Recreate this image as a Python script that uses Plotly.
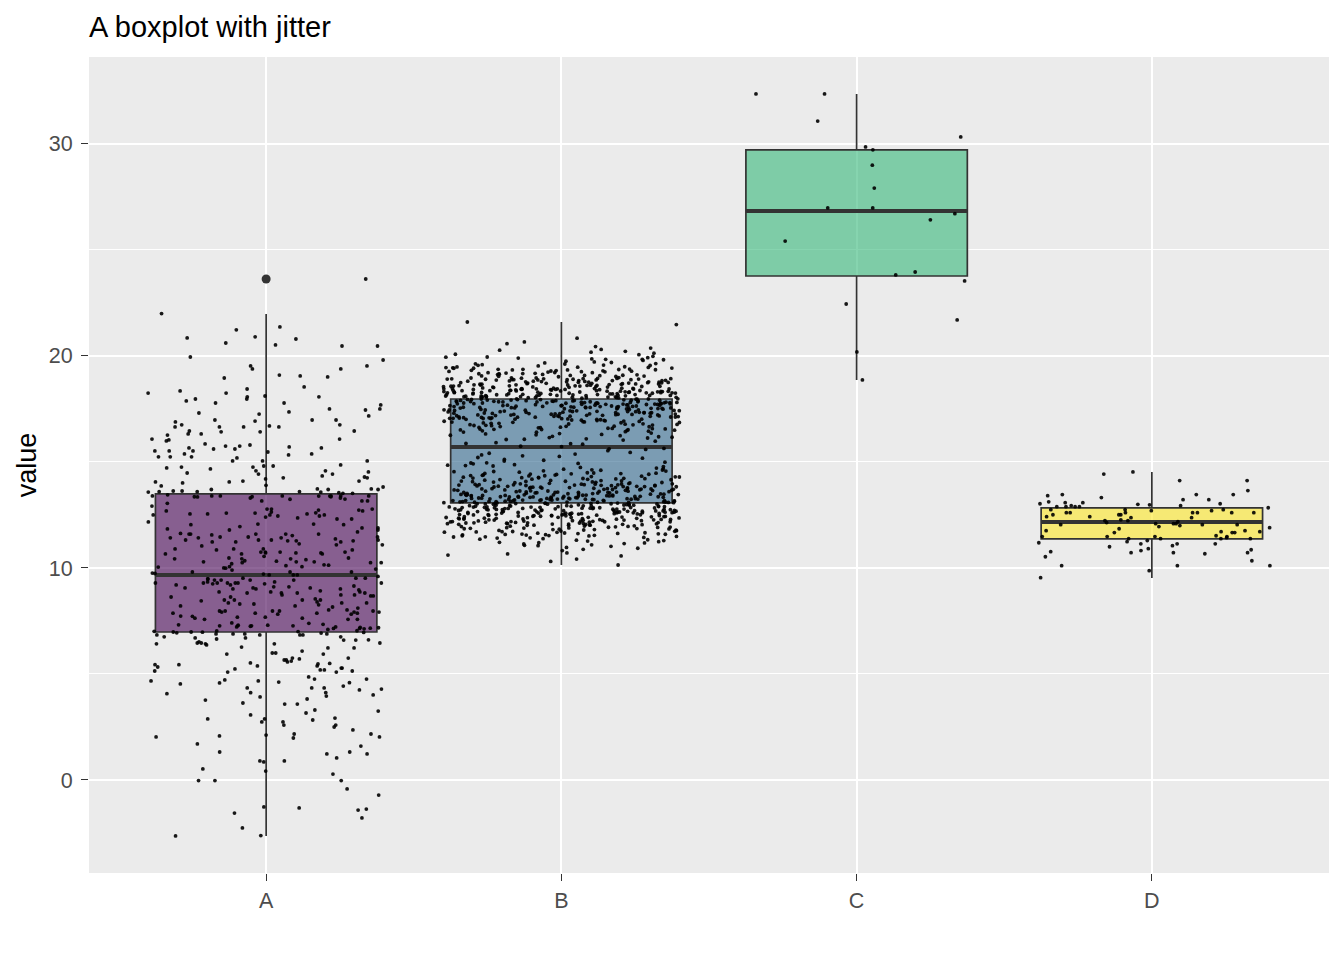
import math
import plotly.graph_objects as go

groups = ["A", "B", "C", "D"]
fill_colors = ["rgba(68,1,84,0.6)", "rgba(49,104,142,0.6)",
               "rgba(53,183,121,0.6)", "rgba(253,231,37,0.6)"]

# box statistics
q1 = [6.98, 13.07, 23.77, 11.37]
median = [9.67, 15.71, 26.84, 12.17]
q3 = [13.49, 17.97, 29.72, 12.83]
lower_whisker = [-2.64, 10.14, 18.87, 9.53]
upper_whisker = [21.98, 21.60, 32.36, 14.53]

values_a = [
    23.63, 22.00, 21.37, 21.23, 20.90, 20.80, 20.85, 20.61, 20.52, 20.47, 20.47,
    19.95, 19.81, 19.39, 19.39, 19.53, 19.53, 19.06, 18.96, 19.01, 19.10, 18.54,
    18.44, 18.35, 18.25, 18.11, 18.25, 17.88, 18.07, 17.69, 18.07, 17.78, 17.97,
    17.97, 17.78, 17.50, 17.45, 17.26, 17.50, 17.36, 17.17, 16.93, 17.31, 16.98,
    16.98, 16.98, 16.70, 16.75, 16.65, 16.65, 16.89, 16.75, 16.65, 16.65, 16.46,
    16.42, 16.32, 16.42, 16.46, 16.32, 16.27, 16.08, 16.08, 16.04, 15.99, 15.71,
    15.85, 15.75, 15.75, 15.61, 15.47, 15.66, 15.52, 15.52, 15.33, 15.38, 15.38,
    15.24, 15.24, 15.66, 15.80, 15.52, 15.61, 15.24, 15.19, 15.05, 15.05, 14.76,
    15.05, 14.86, 14.76, 14.81, 14.34, 14.43, 14.58, 14.25, 14.01, 13.87, 14.81,
    14.67, 14.53, 14.72, 14.48, 14.20, 14.10, 14.06, 14.25, 13.73, 13.73, 13.60,
    13.60, 13.60, 14.06, 13.90, 14.58, 14.43, 14.29, 14.10, 13.82, 13.70, 13.70,
    13.70, 13.63, 13.58, 13.58, 13.40, 13.35, 13.40, 13.40, 13.30, 13.30, 13.40,
    13.40, 13.40, 13.40,
    13.63, 13.55, 13.52, 13.36, 13.36, 13.36, 13.39, 13.52, 13.45, 13.39, 13.25,
    13.16, 13.24, 13.16, 13.16, 12.92, 13.05,
    12.60, 12.64, 12.73, 12.78, 12.78, 12.55, 12.59, 12.69, 12.45, 12.69, 12.50,
    12.55, 12.59, 12.45, 12.50, 12.78, 12.55, 12.50, 12.73, 12.31, 12.31, 12.40,
    12.36,
    12.04, 11.95, 11.89, 11.79, 11.79, 12.07, 12.07, 12.04, 12.17, 11.84, 11.89,
    11.60, 11.60, 11.63, 11.53, 11.60, 11.42, 11.42, 11.32, 11.28, 11.46, 11.37,
    11.32, 11.32, 11.60, 11.60, 11.32, 11.23, 11.28, 11.14, 11.56, 11.70, 11.46,
    11.46, 11.23, 11.42, 11.23, 11.09, 11.28, 11.04,
    11.09, 10.90, 10.85, 10.90, 10.71, 10.90, 10.85, 10.66, 10.75, 10.75, 10.66,
    10.71, 10.75, 10.66, 10.47, 10.75, 10.71, 10.43,
    10.47, 10.43, 10.29, 10.34, 10.29, 10.25, 10.39, 10.29, 10.55, 10.43, 10.20,
    10.06, 10.15, 10.25, 10.32, 10.11, 10.13, 10.00, 10.06, 10.04, 10.25, 9.95,
    9.81, 9.90, 9.81, 9.99, 9.67, 9.74, 9.81, 9.60, 9.52,
    9.71, 9.76, 9.48, 9.43, 9.67, 9.52, 9.48, 9.34, 9.43, 9.67, 9.25, 9.06, 9.01,
    9.43, 9.34, 9.29, 9.20, 9.20, 9.25, 9.01, 9.15, 9.11, 9.29, 9.29, 9.29, 9.06,
    8.87, 8.87, 8.92, 8.82, 9.43, 9.29, 9.29, 9.29, 9.52, 9.06, 8.87, 8.96, 9.01,
    8.73, 8.54, 8.45, 8.35, 8.49, 8.68, 8.30, 8.21, 8.82, 8.49, 8.82, 8.68, 8.63,
    8.21, 8.73, 8.82, 8.73, 8.35, 8.16, 8.63, 9.11, 8.49, 8.40, 8.26, 8.49, 8.35,
    8.11, 8.30, 8.02, 7.92, 7.92, 7.97, 7.97, 7.92, 7.97, 7.87, 7.82, 7.87, 7.97,
    8.02, 7.87, 7.97,
    7.82, 7.72, 7.58, 7.63, 7.39, 7.25, 7.15, 7.22, 7.41, 7.27, 7.58, 7.34, 7.63,
    7.68, 7.30, 7.58, 7.68, 7.87, 7.22, 7.32, 7.30, 7.73, 7.15, 7.10, 7.16, 7.27,
    7.20, 7.27, 7.27, 7.13, 6.70, 6.89, 7.04, 6.84, 6.61, 7.01, 6.84, 6.89, 6.94,
    6.75, 7.03, 7.18,
    6.84, 6.60, 6.42, 6.51, 6.46, 6.46, 6.37, 6.98, 6.08, 5.99, 5.28, 5.19, 5.44,
    5.19, 5.66, 5.75, 5.38, 5.57, 5.44, 5.50, 5.14, 5.52, 5.24, 6.70, 6.89, 6.23,
    6.65, 7.00, 6.60, 6.23, 5.99, 6.84, 6.89, 6.27, 5.09, 6.93, 5.33, 5.94, 5.61,
    5.75, 6.46, 5.09, 5.28, 6.75, 6.98, 6.42, 5.94, 6.42, 5.66, 5.71, 5.47, 5.38,
    6.97, 6.96,
    5.14, 4.59, 4.12, 4.29, 4.43, 3.96, 4.12, 4.07, 4.76, 4.62, 4.34, 4.34, 4.86,
    3.92, 3.77, 3.58, 3.63, 4.53, 4.58, 4.01, 4.67, 3.58, 4.76, 4.72, 4.25, 4.67,
    4.34, 3.82, 3.30, 2.50, 1.32, 2.92, 2.74, 2.36, 2.59, 3.16, 2.88, 2.88, 2.83,
    2.59, 2.03, 2.12, 1.60, 1.23, 1.04, 1.32, 0.90, 1.23, 0.28, 1.70, 0.42, 2.17,
    2.17, 3.07, 3.25, 2.74, 2.08, 2.03, 1.98, 0.90, 0.85, 0.52, -0.03, -0.03,
    -0.03, -0.42, -0.71, -1.56, -1.37, -1.32, -1.27, -1.79, -1.42, -2.26, -2.62,
    -2.64,
]

values_b = [
    # lower cluster
    10.14, 10.42, 10.31,
    10.66, 10.93, 10.57, 10.82, 10.71, 10.97, 10.61, 10.88,
    11.27, 11.05, 11.44, 11.13, 11.38, 11.21, 11.49, 11.02, 11.33, 11.18, 11.46,
    11.09, 11.29, 11.41, 11.15, 11.36, 11.24, 11.47, 11.07, 11.31, 11.42, 11.19,
    11.62, 11.87, 11.54, 11.93, 11.71, 11.58, 11.96, 11.66, 11.81, 11.52, 11.74,
    11.99, 11.63, 11.85, 11.57, 11.78, 11.91, 11.68, 11.55, 11.83, 11.95, 11.61,
    11.72, 11.88, 11.51, 11.79, 11.65, 11.97, 11.59, 11.84, 11.70, 11.92, 11.56,
    11.76, 11.89, 11.64, 11.98, 11.53, 11.81, 11.69, 11.94, 11.60, 11.77, 11.86,
    11.73, 11.90,
    12.31, 12.07, 12.44, 12.18, 12.26, 12.02, 12.39, 12.13, 12.48, 12.21, 12.35,
    12.09, 12.42, 12.16, 12.28, 12.04, 12.37, 12.23, 12.46, 12.11, 12.33, 12.19,
    12.01, 12.41, 12.27, 12.14, 12.49, 12.06, 12.32, 12.24, 12.43, 12.12, 12.38,
    12.20, 12.03, 12.29, 12.47, 12.17, 12.34, 12.08, 12.45, 12.22, 12.36, 12.10,
    12.30, 12.05, 12.40, 12.25, 12.15, 12.48, 12.33, 12.02, 12.27, 12.44, 12.19,
    12.38, 12.09, 12.23, 12.46, 12.13, 12.31, 12.06, 12.42, 12.18, 12.35, 12.26,
    12.01, 12.39, 12.21, 12.12, 12.47, 12.29, 12.07, 12.34, 12.16,
    12.63, 12.81, 12.52, 12.94, 12.71, 12.58, 12.87, 12.66, 12.99, 12.74, 12.55,
    12.83, 12.69, 12.91, 12.61, 12.78, 12.50, 12.86, 12.73, 12.96, 12.57, 12.68,
    12.89, 12.62, 12.79, 12.53, 12.92, 12.75, 12.64, 12.84, 12.59, 12.97, 12.70,
    12.82, 12.56, 12.88, 12.67, 12.93, 12.76, 12.51, 12.85, 12.72, 12.60, 12.98,
    12.65, 12.80, 12.54, 12.90, 12.77, 12.62, 12.95, 12.69, 12.83, 12.57, 12.74,
    12.87, 12.52, 12.79, 12.66, 12.91, 12.58, 12.71, 12.86, 12.63, 12.94, 12.55,
    12.78, 12.68, 12.99, 12.61, 12.82, 12.73, 12.50, 12.89, 12.64, 12.76, 12.93,
    12.59, 12.84, 12.70, 12.53, 12.97, 12.67, 12.81, 12.56, 12.75, 12.92, 12.60,
    12.85, 12.72, 12.54, 12.88, 12.65, 12.96, 12.77, 12.80,
    13.12, 13.37, 13.04, 13.45, 13.21, 13.08, 13.33, 13.16, 13.49, 13.26, 13.01,
    13.41, 13.19, 13.30, 13.06, 13.44, 13.23, 13.11, 13.38, 13.28, 13.03, 13.47,
    13.14, 13.35, 13.25, 13.09, 13.42, 13.18, 13.31, 13.05, 13.46, 13.22, 13.13,
    13.39, 13.27, 13.02, 13.43, 13.17, 13.34, 13.10, 13.48, 13.24, 13.07, 13.36,
    13.20, 13.29, 13.15, 13.40, 13.00, 13.32, 13.12, 13.44, 13.26, 13.05, 13.38,
    13.19, 13.47, 13.09, 13.33, 13.22, 13.41, 13.14, 13.28, 13.03, 13.36, 13.17,
    13.45, 13.24, 13.11, 13.39, 13.30, 13.06, 13.43, 13.20, 13.35, 13.13, 13.48,
    13.27, 13.08, 13.42, 13.16, 13.31, 13.02, 13.37, 13.23, 13.46, 13.10, 13.34,
    13.18, 13.40, 13.25, 13.04, 13.49, 13.21, 13.29, 13.15,
    13.62, 13.87, 13.54, 13.93, 13.71, 13.58, 13.96, 13.66, 13.81, 13.52, 13.74,
    13.99, 13.63, 13.85, 13.57, 13.78, 13.91, 13.68, 13.55, 13.83, 13.95, 13.61,
    13.72, 13.88, 13.51, 13.79, 13.65, 13.97, 13.59, 13.84, 13.70, 13.92, 13.56,
    13.76, 13.89, 13.64, 13.98, 13.53, 13.81, 13.69, 13.94, 13.60, 13.77, 13.86,
    13.73, 13.90, 13.50, 13.67, 13.82, 13.58, 13.95, 13.74, 13.63, 13.88, 13.54,
    13.79, 13.92, 13.66, 13.85, 13.71, 13.57, 13.97, 13.62, 13.80, 13.75, 13.52,
    13.89, 13.68, 13.93, 13.60, 13.84, 13.73, 13.56, 13.91, 13.77,
    14.12, 14.37, 14.04, 14.45, 14.21, 14.08, 14.33, 14.16, 14.49, 14.26, 14.01,
    14.41, 14.19, 14.30, 14.06, 14.44, 14.23, 14.11, 14.38, 14.28, 14.03, 14.47,
    14.14, 14.35, 14.25, 14.09, 14.42, 14.18, 14.31, 14.05, 14.46, 14.22, 14.13,
    14.39, 14.27, 14.02, 14.43, 14.17, 14.34, 14.10, 14.48, 14.24, 14.07, 14.36,
    14.20, 14.29,
    14.62, 14.87, 14.54, 14.93, 14.71, 14.58, 14.96, 14.66, 14.81, 14.52, 14.74,
    14.99, 14.63, 14.85, 14.57, 14.78, 14.91, 14.68, 14.55, 14.83, 14.95, 14.61,
    15.12, 15.37, 15.04, 15.45, 15.21, 15.08, 15.33, 15.26,
    15.62, 15.87, 15.74,
    # upper cluster
    15.18, 15.41, 15.29,
    15.64, 15.91, 15.53, 15.84, 15.72, 15.98, 15.59, 15.86,
    16.24, 16.07, 16.43, 16.15, 16.36, 16.21, 16.48, 16.03, 16.32, 16.17, 16.45,
    16.09, 16.28, 16.40, 16.13, 16.34, 16.26, 16.47, 16.06, 16.30, 16.41, 16.19,
    16.61, 16.86, 16.53, 16.92, 16.72, 16.57, 16.95, 16.67, 16.82, 16.51, 16.75,
    16.98, 16.64, 16.84, 16.56, 16.79, 16.90, 16.69, 16.54, 16.82, 16.96, 16.62,
    16.71, 16.87, 16.50, 16.78, 16.66, 16.97, 16.58, 16.85, 16.73, 16.91, 16.55,
    16.77, 16.88, 16.63, 16.99, 16.52, 16.80, 16.68, 16.93, 16.59, 16.76, 16.89,
    16.74, 16.94,
    17.28, 17.04, 17.43, 17.17, 17.25, 17.01, 17.38, 17.14, 17.47, 17.22, 17.34,
    17.08, 17.41, 17.15, 17.27, 17.05, 17.36, 17.24, 17.45, 17.12, 17.32, 17.20,
    17.02, 17.40, 17.26, 17.13, 17.49, 17.07, 17.31, 17.23, 17.44, 17.11, 17.37,
    17.19, 17.03, 17.29, 17.46, 17.16, 17.33, 17.09, 17.42, 17.21, 17.35, 17.10,
    17.30, 17.06, 17.39, 17.24, 17.14, 17.48, 17.32, 17.01, 17.28, 17.43, 17.18,
    17.37, 17.08, 17.22, 17.45, 17.12, 17.30, 17.05, 17.41, 17.17, 17.34, 17.25,
    17.02, 17.38, 17.20, 17.11, 17.46, 17.27, 17.06, 17.33, 17.15,
    17.64, 17.82, 17.51, 17.93, 17.72, 17.57, 17.88, 17.67, 17.98, 17.75, 17.54,
    17.84, 17.68, 17.90, 17.62, 17.79, 17.50, 17.85, 17.74, 17.95, 17.56, 17.69,
    17.88, 17.63, 17.78, 17.52, 17.91, 17.76, 17.65, 17.83, 17.58, 17.96, 17.71,
    17.81, 17.55, 17.87, 17.66, 17.94, 17.77, 17.53, 17.86, 17.73, 17.61, 17.97,
    17.64, 17.80, 17.55, 17.89, 17.78, 17.61, 17.94, 17.70, 17.84, 17.58, 17.75,
    17.86, 17.53, 17.80, 17.67, 17.92, 17.59, 17.72, 17.87, 17.62, 17.95, 17.56,
    17.79, 17.69, 17.98, 17.60, 17.83, 17.74, 17.51, 17.90, 17.65, 17.77, 17.92,
    17.58, 17.85, 17.71, 17.54, 17.96, 17.68, 17.82, 17.57, 17.76, 17.91, 17.61,
    17.84, 17.73, 17.55, 17.89, 17.66, 17.97, 17.78, 17.81,
    18.13, 18.36, 18.05, 18.44, 18.22, 18.07, 18.34, 18.17, 18.48, 18.27, 18.02,
    18.42, 18.18, 18.31, 18.07, 18.45, 18.24, 18.12, 18.37, 18.29, 18.04, 18.46,
    18.15, 18.34, 18.26, 18.08, 18.43, 18.19, 18.32, 18.06, 18.47, 18.21, 18.14,
    18.38, 18.28, 18.03, 18.42, 18.16, 18.35, 18.11, 18.49, 18.25, 18.08, 18.37,
    18.21, 18.30, 18.14, 18.41, 18.01, 18.33, 18.13, 18.45, 18.27, 18.06, 18.39,
    18.18, 18.46, 18.10, 18.32, 18.23, 18.40, 18.15, 18.29, 18.04, 18.35, 18.16,
    18.44, 18.25, 18.12, 18.38, 18.31, 18.05, 18.42, 18.21, 18.36, 18.14, 18.47,
    18.26, 18.09, 18.43, 18.17, 18.30, 18.03, 18.36, 18.24, 18.45, 18.11, 18.33,
    18.19, 18.41, 18.26, 18.05, 18.48, 18.22, 18.28,
    18.63, 18.88, 18.55, 18.92, 18.72, 18.59, 18.95, 18.67, 18.82, 18.53, 18.75,
    18.98, 18.64, 18.86, 18.58, 18.79, 18.90, 18.69, 18.56, 18.84, 18.94, 18.62,
    18.71, 18.89, 18.52, 18.78, 18.66, 18.96, 18.60, 18.83, 18.71, 18.93, 18.57,
    18.77, 18.88, 18.65, 18.97, 18.54, 18.80, 18.68, 18.93, 18.61, 18.76, 18.87,
    18.74, 18.91, 18.51, 18.68, 18.81, 18.59, 18.94, 18.73, 18.64, 18.87, 18.55,
    18.78, 18.91, 18.67, 18.84, 18.72, 18.58, 18.96, 18.63, 18.81, 18.76, 18.53,
    18.88, 18.69, 18.92, 18.61, 18.85, 18.74, 18.57, 18.90, 18.78,
    19.13, 19.36, 19.05, 19.44, 19.22, 19.09, 19.34, 19.17, 19.48, 19.27, 19.02,
    19.42, 19.18, 19.31, 19.07, 19.45, 19.24, 19.12, 19.37, 19.29, 19.04, 19.46,
    19.15, 19.34, 19.26, 19.08, 19.43, 19.19, 19.32, 19.06, 19.47, 19.21, 19.14,
    19.38, 19.28, 19.03, 19.42, 19.16, 19.35, 19.11, 19.49, 19.25, 19.08, 19.37,
    19.21, 19.30,
    19.63, 19.86, 19.55, 19.92, 19.72, 19.59, 19.95, 19.67, 19.82, 19.53, 19.75,
    19.98, 19.64, 19.84, 19.57, 19.79, 19.90, 19.69, 19.56, 19.84, 19.94, 19.62,
    20.13, 20.37, 20.06, 20.44, 20.22, 20.08, 20.31, 20.18, 20.27,
    20.66, 20.84, 20.58, 21.48, 21.60,
]

values_c = [32.36, 32.36, 31.08, 30.33, 29.86, 29.72, 29.00, 27.92, 26.98, 26.98,
            26.71, 26.42, 25.42, 23.96, 23.82, 23.54, 22.45, 21.70, 20.19, 18.87]

values_d = [
    14.53, 14.43, 14.12, 14.12, 13.65, 13.46, 13.46, 13.46, 13.41, 13.32, 13.22,
    13.22, 13.08, 13.12, 13.08, 12.98, 13.00, 12.94, 13.03, 12.89, 12.94, 13.03,
    12.89, 12.89, 12.89, 12.84, 12.75, 12.75, 12.75, 12.70, 12.61, 12.70, 12.61,
    12.61, 12.61, 12.61, 12.61, 12.61, 12.51, 12.51, 12.37, 12.51, 12.42, 12.42,
    12.37, 12.23, 12.27, 12.23, 12.18, 12.14, 12.09, 12.09, 12.09, 12.04, 12.04,
    12.04, 12.00, 11.95, 11.90, 11.85, 11.76, 11.76, 11.71, 11.67, 11.71, 11.67,
    11.67, 11.52, 11.43, 11.48, 11.48, 11.48, 11.48, 11.38, 11.38, 11.38, 11.38,
    11.24, 11.29, 11.19, 11.14, 11.14, 11.14, 11.00, 11.05, 10.86, 10.91, 10.82,
    10.77, 10.72, 10.72, 10.72, 10.67, 10.53, 10.34, 10.11, 10.11, 10.11, 9.87,
    9.54,
]

all_values = [values_a, values_b, values_c, values_d]

FONT = "Liberation Sans, Arial, sans-serif"
BOX_WIDTH = 0.75
JITTER = 0.4


def jitter_offsets(n, seed):
    # deterministic, irregular spread across the jitter band (hash of the index)
    offs = []
    for k in range(n):
        h = math.sin((k + 1) * 12.9898 + seed * 78.233) * 43758.5453
        offs.append(((h - math.floor(h)) * 2 - 1) * JITTER)
    return offs


fig = go.Figure()

# ── boxes ────────────────────────────────────────────────────────────────────
for i, g in enumerate(groups):
    fig.add_trace(go.Box(
        x=[i], q1=[q1[i]], median=[median[i]], q3=[q3[i]],
        lowerfence=[lower_whisker[i]], upperfence=[upper_whisker[i]],
        width=BOX_WIDTH, whiskerwidth=0, boxpoints=False,
        fillcolor=fill_colors[i],
        line=dict(color="#333333", width=1.7),
        name=g, showlegend=False, hoverinfo="skip",
    ))

# thicker median bar, as ggplot draws it
for i in range(len(groups)):
    fig.add_trace(go.Scatter(
        x=[i - BOX_WIDTH / 2, i + BOX_WIDTH / 2], y=[median[i], median[i]],
        mode="lines", line=dict(color="#333333", width=4),
        showlegend=False, hoverinfo="skip",
    ))

# outliers beyond the whiskers
for i, vals in enumerate(all_values):
    outs = [v for v in vals if v > upper_whisker[i] + 0.05 or v < lower_whisker[i] - 0.05]
    if outs:
        fig.add_trace(go.Scatter(
            x=[i] * len(outs), y=outs, mode="markers",
            marker=dict(color="#333333", size=9),
            showlegend=False, hoverinfo="skip",
        ))

# ── jittered points ──────────────────────────────────────────────────────────
for i, vals in enumerate(all_values):
    offs = jitter_offsets(len(vals), i)
    fig.add_trace(go.Scatter(
        x=[i + o for o in offs], y=vals, mode="markers",
        marker=dict(color="rgba(0,0,0,0.9)", size=3.8, line=dict(width=0)),
        showlegend=False, hoverinfo="skip",
    ))

fig.update_layout(
    width=1344, height=960,
    margin=dict(l=89, r=15, t=57, b=87),
    paper_bgcolor="white",
    plot_bgcolor="#EBEBEB",
    font=dict(family=FONT, color="#4D4D4D"),
    title=dict(text="A boxplot with jitter", x=0, xref="paper", xanchor="left",
               y=1 - 27 / 960, yref="container", yanchor="middle",
               font=dict(size=29, color="black", family=FONT)),
    xaxis=dict(
        range=[-0.6, 3.6], tickvals=list(range(len(groups))), ticktext=groups,
        showgrid=True, gridcolor="white", gridwidth=2, zeroline=False,
        ticks="outside", ticklen=7, tickwidth=1.3, tickcolor="#333333",
        tickfont=dict(size=21.5, color="#4D4D4D"), ticklabelstandoff=1,
        showline=False,
    ),
    yaxis=dict(
        range=[-4.387, 34.10], tickvals=[0, 10, 20, 30],
        showgrid=True, gridcolor="white", gridwidth=2, zeroline=False,
        minor=dict(dtick=5, tick0=0, showgrid=True, gridcolor="white", gridwidth=1),
        ticks="outside", ticklen=7, tickwidth=1.3, tickcolor="#333333",
        tickfont=dict(size=21.5, color="#4D4D4D"), ticklabelstandoff=4,
        title=dict(text="value", font=dict(size=27, color="black", family=FONT), standoff=4),
        showline=False,
    ),
)

fig.write_html("out.html", config={"displayModeBar": False},
               post_script="document.body.style.margin='0';document.body.style.overflow='hidden';")
